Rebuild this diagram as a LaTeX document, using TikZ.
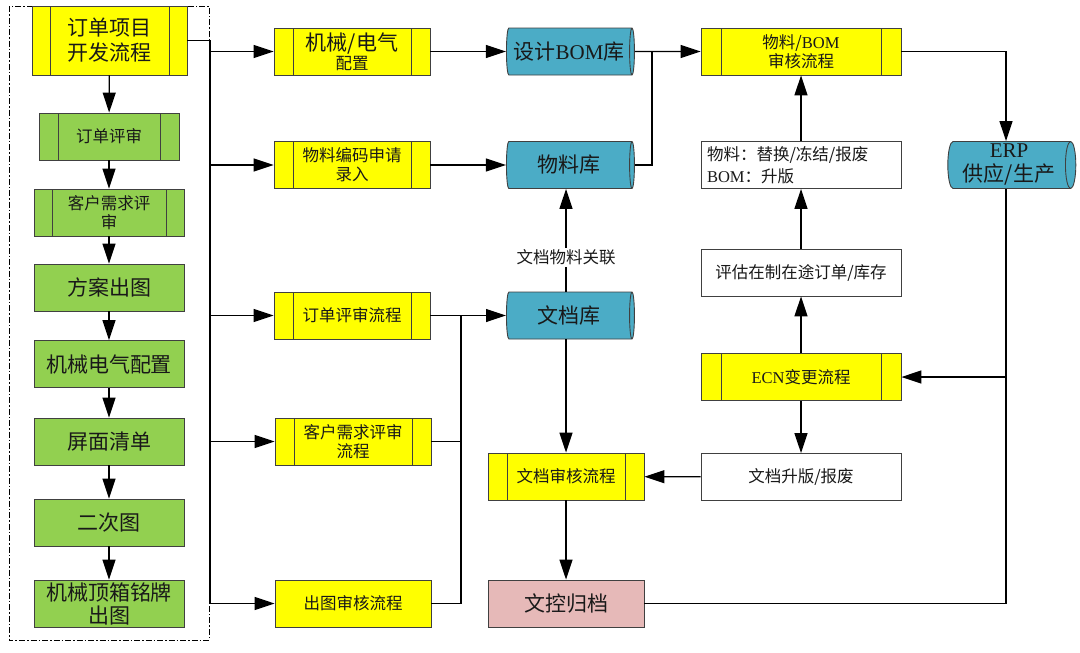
\documentclass[tikz,border=0pt]{standalone}
\usepackage{fontspec}
\setmainfont{Noto Sans CJK SC}
\newfontfamily\lat{Liberation Serif}
\usepackage{tikz}
\usetikzlibrary{positioning,arrows.meta,shapes.geometric,calc}
\definecolor{procyellow}{HTML}{FFFF00}
\definecolor{procgreen}{HTML}{92D050}
\definecolor{dbteal}{HTML}{4BACC6}
\definecolor{archpink}{HTML}{E6B9B8}
\definecolor{edgegray}{HTML}{404040}

\begin{document}
\begin{tikzpicture}[
  x=1pt,y=-1pt,
  >={Triangle[length=20pt,width=13pt]},
  line width=1.2pt,
  every node/.style={text=black!90},
  bigtxt/.style={font=\fontsize{21}{25}\selectfont},
  smalltxt/.style={font=\fontsize{16.5}{19}\selectfont},
  proc/.style={draw=edgegray,line width=.9pt,rectangle,align=center,
    minimum width=156pt,minimum height=47pt,inner sep=0pt,smalltxt},
  predef/.style={proc,path picture={
    \draw[edgegray,line width=.9pt]
      ([xshift=#1]path picture bounding box.north west)
        -- ([xshift=#1]path picture bounding box.south west)
      ([xshift=-#1]path picture bounding box.north east)
        -- ([xshift=-#1]path picture bounding box.south east);}},
  predef/.default=19pt,
  db/.style={cylinder,draw=edgegray,line width=.9pt,fill=dbteal,
    aspect=.25,minimum width=47pt,minimum height=128pt,
    inner sep=0pt,align=center,bigtxt},
  note/.style={proc,fill=white,minimum width=200pt}
]
\useasboundingbox (0,0) rectangle (1080,653);

% 左：订单项目开发
\draw[line width=1pt,dash pattern=on 6pt off 2pt on 1.5pt off 2pt]
  (9,6) rectangle (209,640);
\node[predef=18pt,fill=procyellow,minimum width=155pt,minimum height=69pt,bigtxt]
  (proj) at (109.5,40.5) {订单项目\\开发流程};
\node[predef,fill=procgreen,minimum width=140pt] (ordrev) at (109,136.5) {订单评审};
\node[predef=18pt,fill=procgreen,minimum width=150pt] (custrev) at (109,212.5) {客户需求评\\审};
\node[proc,fill=procgreen,minimum width=150pt,bigtxt] (scheme) at (109,287.5) {方案出图};
\node[proc,fill=procgreen,minimum width=150pt,bigtxt] (mecelec) at (109,364) {机械电气配置};
\node[proc,fill=procgreen,minimum width=150pt,bigtxt] (screen) at (109,441.5) {屏面清单};
\node[proc,fill=procgreen,minimum width=150pt,bigtxt] (second) at (109,522.5) {二次图};
\node[proc,fill=procgreen,minimum width=150pt,font=\fontsize{21}{23}\selectfont]
  (plate) at (109,603.5) {机械顶箱铭牌\\出图};

\draw[->] (proj) -- (ordrev);
\draw[->] (ordrev) -- (custrev);
\draw[->] (custrev) -- (scheme);
\draw[->] (scheme) -- (mecelec);
\draw[->] (mecelec) -- (screen);
\draw[->] (screen) -- (second);
\draw[->] (second) -- (plate);

% 中：各流程
\node[predef,fill=procyellow] (mecfg) at (352,51.5)
  {{\fontsize{21}{22}\selectfont 机械/电气}\\配置};
\node[predef,fill=procyellow] (matcode) at (352,165) {物料编码申请\\录入};
\node[predef,fill=procyellow] (ordflow) at (352,315.5) {订单评审流程};
\node[predef,fill=procyellow] (custflow) at (353,441.5) {客户需求评审\\流程};
\node[proc,fill=procyellow] (drawflow) at (353,603.5) {出图审核流程};

\coordinate (bus) at (210,0);
\draw (proj.east) -| (bus |- drawflow.west);
\foreach \t in {mecfg,matcode,ordflow,custflow,drawflow}
  \draw[->] (bus |- \t.west) -- (\t.west);

% 库
\node[db] (bomdb) at (569,51.5) {设计{\lat BOM}库};
\node[db] (matdb) at (569,165) {物料库};
\node[db] (docdb) at (569,315.5) {文档库};
\node[db,font=\fontsize{21}{24}\selectfont] (erp) at (1009,165) {{\lat ERP}\\供应/生产};

\draw[->] (mecfg) -- (bomdb);
\draw[->] (matcode) -- (matdb);
\draw[->] (ordflow) -- (docdb);
\coordinate (join) at (461,0);
\draw (drawflow.east) -| (join |- ordflow.east);
\draw (custflow.east) -- (join |- custflow.east);

% 审核与归档
\node[predef,fill=procyellow] (docrev) at (566,476.5) {文档审核流程};
\node[proc,fill=archpink,bigtxt] (arch) at (566,603.5) {文控归档};
\draw[->] (docrev.north |- docdb.north) --
  node[pos=.33,fill=white,smalltxt,inner sep=2pt] (link) {文档物料关联}
  (docrev.north |- matdb.south);
\draw[->] (docrev.north |- docdb.south) -- (docrev);
\draw[->] (docrev) -- (arch);

% 右：物料/BOM 与 ECN
\node[predef=20pt,fill=procyellow,minimum width=200pt] (bomflow) at (801,51.5)
  {物料/{\lat BOM}\\审核流程};
\node[note,align=left,text width=188pt,font=\fontsize{16.5}{22}\selectfont] (change) at (801,165)
  {物料：替换/冻结/报废\\{\lat BOM}：升版};
\node[note] (assess) at (801,272.5) {评估在制在途订单/库存};
\node[predef=20pt,fill=procyellow,minimum width=200pt] (ecn) at (801,377) {{\lat ECN}变更流程};
\node[note] (docup) at (801,477) {文档升版/报废};

\coordinate (bomjoin) at (652,51.5);
\draw[->] (bomdb) -- (bomflow);
\draw (matdb.east) -| (bomjoin);
\draw[->] (change) -- (bomflow);
\draw[->] (assess) -- (change);
\draw[->] (ecn) -- (assess);
\draw[->] (ecn) -- (docup);
\draw[->] (docup) -- (docrev);

\coordinate (erpline) at (1006,0);
\draw[->] (bomflow.east) -| (erpline |- erp.north);
\draw (arch.east) -| (erpline |- erp.south);
\draw[->] (erpline |- ecn.east) -- (ecn.east);

\end{tikzpicture}
\end{document}
